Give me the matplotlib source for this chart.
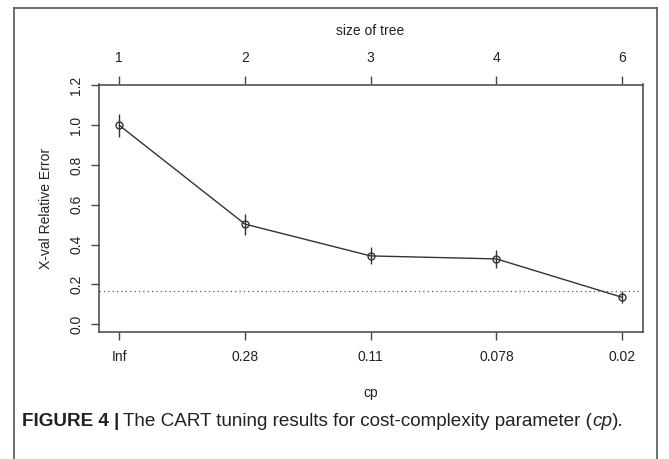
import matplotlib
matplotlib.use("Agg")
import matplotlib.pyplot as plt
from matplotlib.lines import Line2D

plt.rcParams['font.family'] = ['Liberation Sans', 'DejaVu Sans']

cp_labels = ["Inf", "0.28", "0.11", "0.078", "0.02"]
tree_sizes = ["1", "2", "3", "4", "6"]
xerror = [1.0, 0.503, 0.343, 0.328, 0.135]
xstd = [0.059, 0.053, 0.043, 0.046, 0.030]
threshold = 0.167
y_ticks = [0.0, 0.2, 0.4, 0.6, 0.8, 1.0, 1.2]

W, H = 669, 459
fig = plt.figure(figsize=(W / 100, H / 100), dpi=100)

L, R, T, B = 98.5, 642.5, 84.5, 331.5
ax = fig.add_axes([L / W, 1 - B / H, (R - L) / W, (B - T) / H])

xs = list(range(1, len(cp_labels) + 1))
lc = "#333333"
fs = 10
ax.plot(xs, xerror, color=lc, lw=1.0, marker='o', ms=5, mfc='none', mec=lc, mew=1.0, zorder=3)
ax.vlines(xs, [e - s for e, s in zip(xerror, xstd)], [e + s for e, s in zip(xerror, xstd)],
          color=lc, lw=1.0, zorder=3)
ax.axhline(threshold, color="#555555", lw=0.9, ls=(0, (1, 2.5)), zorder=2)

ax.set_xlim(0.835, 5.162)
ax.set_ylim(-0.037, 1.205)
ax.set_xticks(xs)
ax.set_xticklabels(cp_labels)
ax.set_yticks(y_ticks)
ax.set_yticklabels([f"{v:.1f}" for v in y_ticks], rotation=90, va='center')

for sp in ax.spines.values():
    sp.set_color("#444444")
    sp.set_linewidth(1.1)
ax.tick_params(direction='out', length=6, width=1.0, color="#444444", labelsize=fs,
               labelcolor="#222222", pad=7)
ax.tick_params(axis='y', pad=5)

top = ax.secondary_xaxis('top')
top.set_xticks(xs)
top.set_xticklabels(tree_sizes)
top.tick_params(direction='out', length=6, width=1.0, color="#444444", labelsize=fs,
                labelcolor="#222222", pad=8)
top.spines['top'].set_visible(False)

ax.set_xlabel("cp", fontsize=fs, color="#222222", labelpad=16)
ax.set_ylabel("X-val Relative Error", fontsize=fs, color="#222222", labelpad=12)
fig.text(370 / W, 1 - 31 / H, "size of tree", ha='center', va='center', fontsize=fs, color="#222222")

# caption
cfs = 13.6
cap_y = 1 - 421 / H
t1 = fig.text(22 / W, cap_y, "FIGURE 4 |", fontsize=cfs, fontweight='bold', color="#222222",
              va='center', ha='left')
fig.canvas.draw()
bb = t1.get_window_extent()
x2 = (bb.x1 + 4) / W
t2 = fig.text(x2, cap_y, "The CART tuning results for cost-complexity parameter (", fontsize=cfs,
              color="#222222", va='center', ha='left')
fig.canvas.draw()
bb2 = t2.get_window_extent()
t3 = fig.text(bb2.x1 / W, cap_y, "cp", fontsize=cfs, style='italic', color="#222222", va='center', ha='left')
fig.canvas.draw()
bb3 = t3.get_window_extent()
fig.text(bb3.x1 / W, cap_y, ").", fontsize=cfs, color="#222222", va='center', ha='left')

# outer frame (open at bottom)
fc = "#555555"
fig.add_artist(Line2D([14 / W, 14 / W], [0, 1 - 8 / H], transform=fig.transFigure, color=fc, lw=1.2))
fig.add_artist(Line2D([14 / W, 657 / W], [1 - 8 / H, 1 - 8 / H], transform=fig.transFigure, color=fc, lw=1.2))
fig.add_artist(Line2D([657 / W, 657 / W], [0, 1 - 8 / H], transform=fig.transFigure, color=fc, lw=1.2))

fig.savefig("out.png", dpi=100)
